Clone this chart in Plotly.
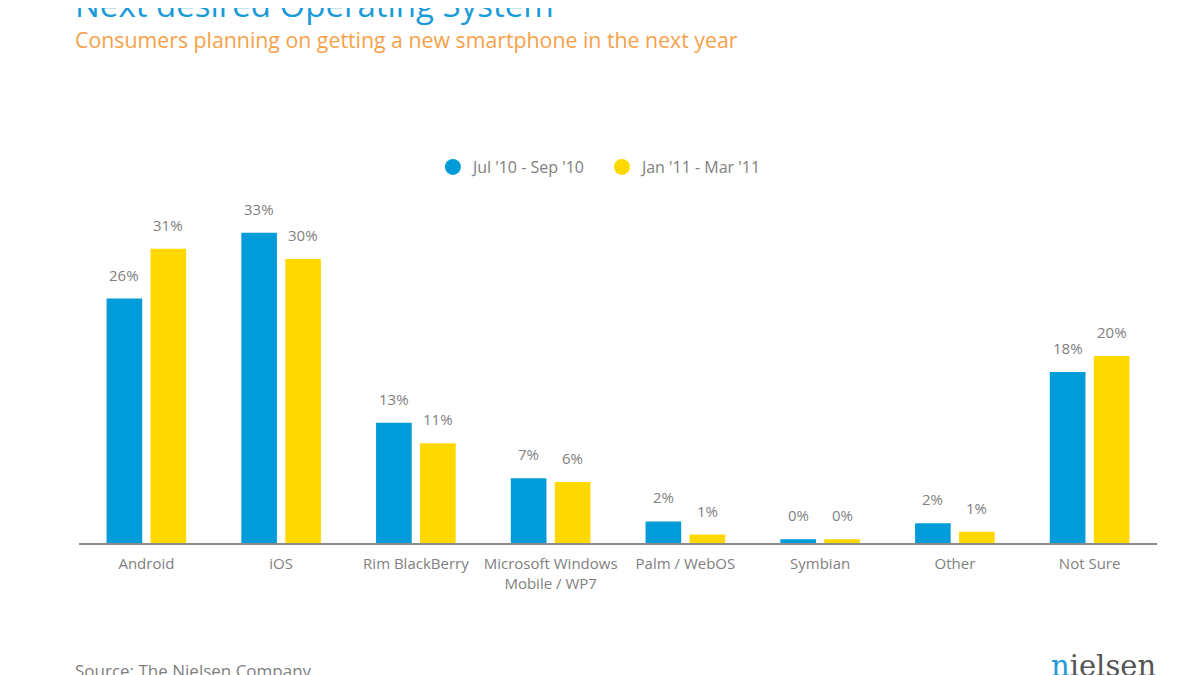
import plotly.graph_objects as go

categories = ["Android", "iOS", "Rim BlackBerry", "Microsoft Windows<br>Mobile / WP7",
              "Palm / WebOS", "Symbian", "Other", "Not Sure"]
series_names = ["Jul '10 - Sep '10", "Jan '11 - Mar '11"]
# bar heights (percent)
jul_sep_10 = [26, 33, 12.8, 6.9, 2.3, 0.4, 2.1, 18.2]
jan_mar_11 = [31.3, 30.2, 10.6, 6.5, 0.9, 0.4, 1.2, 19.9]
# printed labels
jul_sep_10_labels = ["26%", "33%", "13%", "7%", "2%", "0%", "2%", "18%"]
jan_mar_11_labels = ["31%", "30%", "11%", "6%", "1%", "0%", "1%", "20%"]

BLUE = "#009bd9"
YELLOW = "#ffd800"
GREY = "#7f7f7f"
FONT = "Open Sans"

W, H = 1192, 667  # page body has an 8px margin
ML, MR, MT, MB = 71, 43, 159, 132
BARGAP = 0.347
plot_w = W - ML - MR
slot = (1 - BARGAP) * plot_w / len(categories) / 2

fig = go.Figure()
annotations = []
series = [
    (series_names[0], jul_sep_10, jul_sep_10_labels, BLUE, -slot / 2),
    (series_names[1], jan_mar_11, jan_mar_11_labels, YELLOW, slot / 2),
]
for name, vals, labels, col, dx in series:
    fig.add_trace(go.Bar(
        x=categories, y=vals, name=name,
        marker=dict(color=col, line=dict(width=0)),
        showlegend=False, hoverinfo="skip",
    ))
    # legend entry with circle marker
    fig.add_trace(go.Scatter(
        x=[None], y=[None], mode="markers", name=name,
        marker=dict(color=col, size=22, symbol="circle"),
    ))
    for c, v, l in zip(categories, vals, labels):
        annotations.append(dict(
            x=c, y=v, text=l, xref="x", yref="y", showarrow=False,
            xanchor="center", yanchor="middle", xshift=dx, yshift=24,
            font=dict(size=15, color=GREY, family=FONT),
        ))

annotations += [
    dict(text="Next desired Operating System", xref="paper", yref="paper",
         x=0, y=1, xanchor="left", yanchor="bottom", xshift=-6, yshift=138,
         showarrow=False, font=dict(size=33, color="#1a9bd7", family=FONT)),
    dict(text="Consumers planning on getting a new smartphone in the next year",
         xref="paper", yref="paper", x=0, y=1, xanchor="left", yanchor="bottom",
         xshift=-6, yshift=111, showarrow=False,
         font=dict(size=21.3, color="#f7a14a", family=FONT)),
    dict(text="Source: The Nielsen Company", xref="paper", yref="paper",
         x=0, y=0, xanchor="left", yanchor="top", xshift=-6, yshift=-114,
         showarrow=False, font=dict(size=17, color=GREY, family=FONT)),
    dict(text="<span style='color:#1a9bd7'>n</span>ielsen", xref="paper", yref="paper",
         x=1, y=0, xanchor="right", yanchor="top", xshift=1, yshift=-104,
         showarrow=False, font=dict(size=29, color="#555555", family="DejaVu Serif")),
]

fig.update_layout(
    width=W, height=H,
    margin=dict(l=ML, r=MR, t=MT, b=MB),
    paper_bgcolor="white", plot_bgcolor="white",
    barmode="group", bargap=BARGAP, bargroupgap=0.19,
    font=dict(family=FONT, color=GREY),
    showlegend=True,
    legend=dict(orientation="h", x=0.3283, xanchor="left", y=1.0, yanchor="middle",
                font=dict(size=16, color=GREY, family=FONT), itemsizing="trace",
                traceorder="normal", entrywidth=124),
    xaxis=dict(showline=True, linecolor="#8c8c8c", linewidth=2, ticks="",
               tickfont=dict(size=15, color=GREY, family=FONT), showgrid=False,
               zeroline=False, ticklabelstandoff=6),
    yaxis=dict(range=[0, 40], visible=False, showgrid=False, zeroline=False),
    annotations=annotations,
)

fig.write_html("out.html")
